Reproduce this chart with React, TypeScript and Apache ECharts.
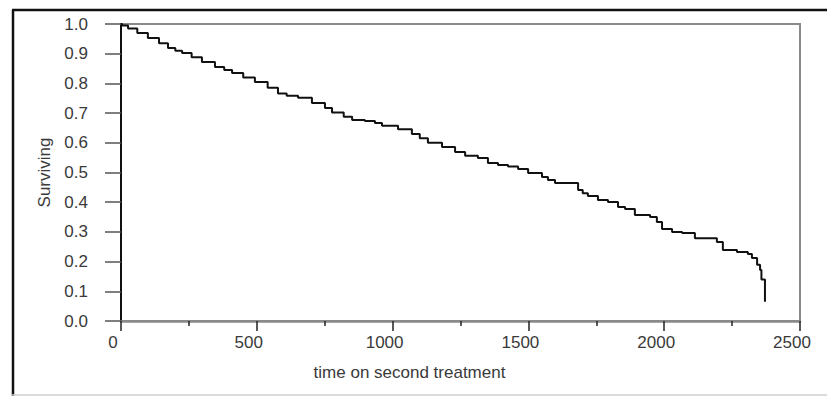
import React, { useEffect, useRef } from "react";
import * as echarts from "echarts";

const times = [0, 4, 26, 60, 99, 140, 173, 200, 225, 260, 298, 346, 380, 409, 450, 493, 540, 578, 610, 652, 703, 751, 777, 820, 851, 898, 935, 961, 1020, 1071, 1100, 1130, 1182, 1230, 1267, 1314, 1351, 1388, 1425, 1462, 1499, 1550, 1572, 1598, 1683, 1700, 1719, 1756, 1793, 1830, 1856, 1892, 1948, 1973, 1992, 2029, 2066, 2113, 2194, 2216, 2268, 2308, 2323, 2342, 2353, 2358, 2371];
const surviving = [1.0, 0.995, 0.985, 0.97, 0.953, 0.935, 0.919, 0.91, 0.902, 0.888, 0.872, 0.855, 0.845, 0.835, 0.82, 0.805, 0.785, 0.766, 0.758, 0.752, 0.734, 0.717, 0.702, 0.688, 0.677, 0.673, 0.667, 0.657, 0.646, 0.63, 0.615, 0.6, 0.586, 0.569, 0.556, 0.549, 0.532, 0.525, 0.52, 0.512, 0.498, 0.485, 0.475, 0.465, 0.441, 0.43, 0.421, 0.407, 0.401, 0.384, 0.377, 0.357, 0.35, 0.333, 0.31, 0.3, 0.296, 0.279, 0.266, 0.239, 0.232, 0.226, 0.212, 0.189, 0.172, 0.14, 0.065];

const xTitle = "time on second treatment";
const yTitle = "Surviving";

export default function App() {
  const ref = useRef<HTMLDivElement>(null);
  useEffect(() => {
    if (!ref.current) return;
    const chart = echarts.init(ref.current, null, { renderer: "svg" });
    const font = "'Liberation Sans', Arial, sans-serif";
    const txt = "#3a3a3a";
    chart.setOption({
      animation: false,
      backgroundColor: "#ffffff",
      grid: {
        left: 121,
        right: 27,
        top: 24,
        bottom: 75,
        show: true,
        borderColor: "#8a8a8a",
        borderWidth: 2,
        backgroundColor: "transparent",
      },
      xAxis: {
        type: "value",
        min: 0,
        max: 2500,
        interval: 500,
        name: xTitle,
        nameLocation: "middle",
        nameGap: 43,
        nameTextStyle: { fontSize: 17, color: txt, fontFamily: font, padding: [0, 102, 0, 0] },
        axisLine: { show: true, onZero: false, lineStyle: { color: "#8a8a8a", width: 2.5 } },
        axisTick: { show: true, length: 10, lineStyle: { color: "#222", width: 1.5 } },
        minorTick: { show: true, splitNumber: 2, length: 5, lineStyle: { color: "#222", width: 1.5 } },
        splitLine: { show: false },
        axisLabel: {
          fontSize: 17,
          color: txt,
          fontFamily: font,
          margin: 13,
          padding: [0, 16, 0, 0],
          formatter: (v: number) => String(v),
        },
      },
      yAxis: {
        type: "value",
        min: 0,
        max: 1,
        interval: 0.1,
        name: yTitle,
        nameLocation: "middle",
        nameGap: 66,
        nameTextStyle: { fontSize: 17, color: txt, fontFamily: font },
        axisLine: { show: true, lineStyle: { color: "#111", width: 2 } },
        axisTick: { show: true, length: 16, lineStyle: { color: "#555", width: 1.5 } },
        splitLine: { show: false },
        axisLabel: {
          fontSize: 17,
          color: txt,
          fontFamily: font,
          margin: 33,
          formatter: (v: number) => v.toFixed(1),
        },
      },
      series: [
        {
          type: "line",
          step: "end",
          showSymbol: false,
          symbol: "none",
          data: times.map((t, i) => [t, surviving[i]]),
          lineStyle: { color: "#111", width: 2 },
        },
      ],
      graphic: [
        { type: "line", shape: { x1: 13, y1: 10, x2: 13, y2: 396 }, style: { stroke: "#111", lineWidth: 2.5 } },
        { type: "line", shape: { x1: 12, y1: 10, x2: 827, y2: 10 }, style: { stroke: "#111", lineWidth: 2.5 } },
        { type: "line", shape: { x1: 12, y1: 395, x2: 827, y2: 395 }, style: { stroke: "#cfcfcf", lineWidth: 1.5 } },
      ],
    });
    return () => chart.dispose();
  }, []);
  return (
    <div
      ref={ref}
      style={{ position: "fixed", left: 0, top: 0, width: 827, height: 396, background: "#fff" }}
    />
  );
}
